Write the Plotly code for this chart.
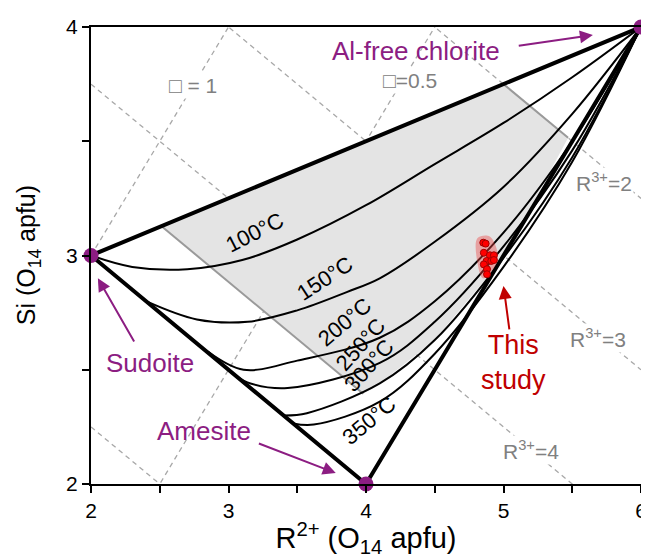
import plotly.graph_objects as go

# ---- data ----
vertex_names = ["Al-free chlorite", "Sudoite", "Amesite"]
vertex_x = [6, 2, 4]
vertex_y = [4, 3, 2]

iso_labels = ["100°C", "150°C", "200°C", "250°C", "300°C", "350°C"]
t100_x = [2.0, 2.3, 2.7, 3.1, 3.5, 4.0, 4.5, 5.0, 5.5, 6.0]
t100_y = [3.0, 2.95, 2.94, 2.98, 3.07, 3.22, 3.40, 3.58, 3.78, 4.0]
t150_x = [2.4, 2.77, 3.14, 3.5, 3.86, 4.1, 4.5, 5.0, 5.5, 6.0]
t150_y = [2.8, 2.72, 2.71, 2.76, 2.84, 2.90, 3.06, 3.30, 3.62, 4.0]
t200_x = [2.85, 3.11, 3.5, 4.1, 4.5, 5.0, 5.5, 6.0]
t200_y = [2.58, 2.50, 2.54, 2.64, 2.80, 3.10, 3.50, 4.0]
t250_x = [3.06, 3.16, 3.43, 4.1, 4.5, 5.0, 5.5, 6.0]
t250_y = [2.47, 2.44, 2.42, 2.53, 2.71, 3.04, 3.46, 4.0]
t300_x = [3.4, 3.57, 4.1, 4.5, 5.0, 5.5, 6.0]
t300_y = [2.30, 2.31, 2.44, 2.63, 2.99, 3.43, 4.0]
t350_x = [3.47, 3.62, 4.1, 4.5, 5.0, 5.5, 6.0]
t350_y = [2.265, 2.26, 2.36, 2.57, 2.95, 3.41, 4.0]

study_x = [4.853, 4.870, 4.857, 4.901, 4.930, 4.877, 4.911, 4.857, 4.930, 4.880, 4.880]
study_y = [3.056, 3.052, 3.012, 3.001, 3.001, 2.976, 2.976, 2.961, 2.980, 2.940, 2.918]

vac_labels = ["□ = 1", "□=0.5"]
vac_values = [1.0, 0.5]
r3_labels = ["R<sup>3+</sup>=2", "R<sup>3+</sup>=3", "R<sup>3+</sup>=4", ""]
r3_intercepts = [6.25, 5.5, 4.75, 3.25]

PURPLE = "#8C1D82"
RED = "#C00000"
FONT = "Liberation Sans, Arial"
DASH = dict(color="#A8A8A8", width=1.3, dash="5px,4px")

fig = go.Figure()

# dashed vacancy lines: Si = R2 - 2 + 3*vac
for v in vac_values:
    xs = [2, 6]
    ys = [x - 2 + 3 * v for x in xs]
    fig.add_trace(go.Scatter(x=xs, y=ys, mode="lines", line=DASH,
                             hoverinfo="skip", showlegend=False))
# dashed R3+ lines: Si = c - 0.5 R2
for c in r3_intercepts:
    xs = [2, 6]
    ys = [c - 0.5 * x for x in xs]
    fig.add_trace(go.Scatter(x=xs, y=ys, mode="lines", line=DASH,
                             hoverinfo="skip", showlegend=False))

# gray domain
c_left = 4.385
c_right = 6.25
gx = [2.513, 5.0]
gy = [3.128, 3.75]
lower = [(x, y) for x, y in zip(t300_x, t300_y) if 3.98 <= x <= 5.47]
gx += [5.47]
gy += [c_right - 0.5 * 5.47]
for x, y in reversed(lower):
    gx.append(x); gy.append(y)
gx += [3.98, 2.513]
gy += [c_left - 0.5 * 3.98, 3.128]
fig.add_trace(go.Scatter(x=gx, y=gy, mode="lines", fill="toself",
                         fillcolor="#E4E4E4", line=dict(width=0),
                         hoverinfo="skip", showlegend=False))
fig.add_trace(go.Scatter(x=[2.513, 3.98], y=[3.128, c_left - 0.5 * 3.98], mode="lines",
                         line=dict(color="#9A9A9A", width=2), showlegend=False, hoverinfo="skip"))
fig.add_trace(go.Scatter(x=[5.0, 5.47], y=[3.75, c_right - 0.5 * 5.47], mode="lines",
                         line=dict(color="#9A9A9A", width=2), showlegend=False, hoverinfo="skip"))

# isotherms
for xs, ys in [(t100_x, t100_y), (t150_x, t150_y), (t200_x, t200_y),
               (t250_x, t250_y), (t300_x, t300_y), (t350_x, t350_y)]:
    fig.add_trace(go.Scatter(x=xs, y=ys, mode="lines", line=dict(color="black", width=2, shape="spline"),
                             hoverinfo="skip", showlegend=False))

# triangle outline
fig.add_trace(go.Scatter(x=[2, 6, 4, 2], y=[3, 4, 2, 3], mode="lines",
                         line=dict(color="black", width=4), hoverinfo="skip", showlegend=False))

# this study blob
blob_x = [4.81, 4.90, 4.96, 4.90, 4.85, 4.81, 4.81]
blob_y = [3.075, 3.083, 2.99, 2.92, 2.90, 2.97, 3.075]
fig.add_trace(go.Scatter(x=blob_x, y=blob_y, mode="lines", fill="toself",
                         fillcolor="rgba(235,70,70,0.42)", line=dict(width=0, shape="spline"),
                         hoverinfo="skip", showlegend=False))
fig.add_trace(go.Scatter(x=study_x, y=study_y, mode="markers",
                         marker=dict(size=7, color="#FF0000", line=dict(color="#A00000", width=1)),
                         showlegend=False))

# vertices
fig.add_trace(go.Scatter(x=vertex_x, y=vertex_y, mode="markers",
                         marker=dict(size=15, color=PURPLE), cliponaxis=False, showlegend=False))

# dashed line labels
lab_font = dict(family=FONT, size=21, color="#808080")
fig.add_annotation(x=2.74, y=3.745, text=vac_labels[0], showarrow=False, bgcolor="white", font=lab_font)
fig.add_annotation(x=4.32, y=3.765, text=vac_labels[1], showarrow=False, bgcolor="white", font=lab_font)
fig.add_annotation(x=5.73, y=3.32, text=r3_labels[0], showarrow=False, bgcolor="white", font=lab_font)
fig.add_annotation(x=5.69, y=2.64, text=r3_labels[1], showarrow=False, bgcolor="white", font=lab_font)
fig.add_annotation(x=5.20, y=2.15, text=r3_labels[2], showarrow=False, bgcolor="white", font=lab_font)

# isotherm labels
iso_font = dict(family=FONT, size=22, color="black")
iso_pos = [(3.19, 3.10, -27), (3.70, 2.90, -33), (3.85, 2.71, -40),
           (3.96, 2.61, -48), (4.02, 2.52, -48), (4.02, 2.28, -40)]
for (x, y, a), t in zip(iso_pos, iso_labels):
    fig.add_annotation(x=x, y=y, text=t, showarrow=False, textangle=a, font=iso_font)

# name labels
nfont = dict(family=FONT, size=26, color=PURPLE)
fig.add_annotation(x=4.36, y=3.895, text=vertex_names[0], showarrow=False, font=nfont)
fig.add_annotation(x=2.43, y=2.53, text=vertex_names[1], showarrow=False, font=nfont)
fig.add_annotation(x=2.82, y=2.23, text=vertex_names[2], showarrow=False, font=nfont)
rfont = dict(family=FONT, size=27, color=RED)
fig.add_annotation(x=5.07, y=2.53, text="This<br>study", showarrow=False, font=rfont)

def arrow(x0, y0, x1, y1, color):
    fig.add_annotation(x=x1, y=y1, ax=x0, ay=y0, axref="x", ayref="y", xref="x", yref="y",
                       text="", showarrow=True, arrowhead=2, arrowsize=1.3, arrowwidth=2, arrowcolor=color)

arrow(5.10, 3.917, 5.65, 3.965, PURPLE)
arrow(2.32, 2.617, 2.05, 2.90, PURPLE)
arrow(3.21, 2.18, 3.78, 2.048, PURPLE)
arrow(5.044, 2.67, 5.0, 2.867, RED)

# y-axis title as rotated annotation
fig.add_annotation(xref="paper", yref="paper", x=-0.115, y=0.5, xanchor="center", yanchor="middle",
                   text="Si (O<sub>14</sub> apfu)", textangle=-90, showarrow=False,
                   font=dict(family=FONT, size=25, color="black"))

axis_common = dict(showline=True, linecolor="black", linewidth=2, mirror=True,
                   ticks="outside", ticklen=7, tickwidth=2, tickcolor="black",
                   showgrid=False, zeroline=False, ticklabeloverflow="allow",
                   tickfont=dict(family=FONT, size=21, color="black"))
fig.update_xaxes(range=[2, 6], dtick=1, tick0=2,
                 minor=dict(dtick=0.5, ticks="outside", ticklen=7, tickwidth=2, tickcolor="black"),
                 title=dict(text="R<sup>2+</sup> (O<sub>14</sub> apfu)", standoff=6,
                            font=dict(family=FONT, size=29, color="black")),
                 **axis_common)
fig.update_yaxes(range=[2, 4], dtick=1, tick0=2,
                 minor=dict(dtick=0.5, ticks="outside", ticklen=7, tickwidth=2, tickcolor="black"),
                 **axis_common)
fig.update_layout(width=641, height=550, margin=dict(l=83, r=2, t=19, b=74),
                  plot_bgcolor="white", paper_bgcolor="white")
fig.write_html("out.html")
